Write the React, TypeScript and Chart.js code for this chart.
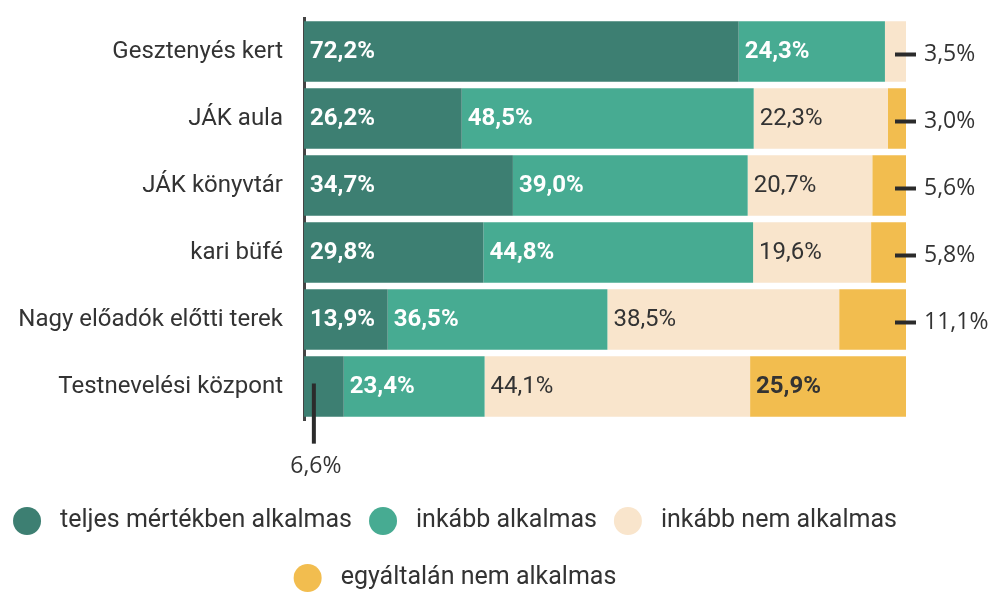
import { useEffect, useRef } from "react";
import { Chart, registerables } from "chart.js";

Chart.register(...registerables);

const categories = [
  "Gesztenyés kert",
  "JÁK aula",
  "JÁK könyvtár",
  "kari büfé",
  "Nagy előadók előtti terek",
  "Testnevelési központ",
];
const seriesNames = [
  "teljes mértékben alkalmas",
  "inkább alkalmas",
  "inkább nem alkalmas",
  "egyáltalán nem alkalmas",
];
const teljes = [72.2, 26.2, 34.7, 29.8, 13.9, 6.6];
const inkabb = [24.3, 48.5, 39.0, 44.8, 36.5, 23.4];
const inkabbNem = [3.5, 22.3, 20.7, 19.6, 38.5, 44.1];
const egyaltalan = [0, 3.0, 5.6, 5.8, 11.1, 25.9];

// where each value label goes: inside, to the right with a dash, below with a line
const placeTeljes = ["in", "in", "in", "in", "in", "below"];
const placeInkabb = ["in", "in", "in", "in", "in", "in"];
const placeInkabbNem = ["right", "in", "in", "in", "in", "in"];
const placeEgyaltalan = ["", "right", "right", "right", "right", "in"];

const colors = ["#3d7f72", "#47ab92", "#f9e5cc", "#f2bd4f"];
const textColors = ["#ffffff", "#ffffff", "#333333", "#333333"];
const textWeights = ["bold", "bold", "normal", "bold"];

const seriesValues = [teljes, inkabb, inkabbNem, egyaltalan];
const placements = [placeTeljes, placeInkabb, placeInkabbNem, placeEgyaltalan];

const fmt = (v: number) => v.toFixed(1).replace(".", ",") + "%";

const labelPlugin = {
  id: "segLabels",
  afterDatasetsDraw(chart: any) {
    const ctx = chart.ctx as CanvasRenderingContext2D;
    chart.data.datasets.forEach((ds: any, di: number) => {
      const meta = chart.getDatasetMeta(di);
      meta.data.forEach((bar: any, i: number) => {
        const place = placements[di][i];
        const v = ds.data[i];
        if (!place || !v) return;
        const { x, y, base, height } = bar.getProps(["x", "y", "base", "height"], true);
        const text = fmt(v);
        ctx.save();
        if (place === "in") {
          ctx.font = `${textWeights[di]} 24px Roboto`;
          ctx.fillStyle = textColors[di];
          ctx.textAlign = "left";
          ctx.textBaseline = "middle";
          ctx.fillText(text, base + 6, y);
        } else if (place === "right") {
          ctx.strokeStyle = "#2b2b2b";
          ctx.lineWidth = 4;
          ctx.beginPath();
          ctx.moveTo(x - 11, y + 3);
          ctx.lineTo(x + 10, y + 3);
          ctx.stroke();
          ctx.font = '23px "Open Sans"';
          ctx.fillStyle = "#333333";
          ctx.textAlign = "left";
          ctx.textBaseline = "middle";
          ctx.fillText(text, x + 18, y + 3);
        } else if (place === "below") {
          const cx = (x + base) / 2 - 10;
          const bottom = y + height / 2;
          ctx.strokeStyle = "#2b2b2b";
          ctx.lineWidth = 4;
          ctx.beginPath();
          ctx.moveTo(cx, y - 3);
          ctx.lineTo(cx, bottom + 27);
          ctx.stroke();
          ctx.font = '23px "Open Sans"';
          ctx.fillStyle = "#333333";
          ctx.textAlign = "center";
          ctx.textBaseline = "alphabetic";
          ctx.fillText(text, cx + 2, bottom + 56);
        }
        ctx.restore();
      });
    });
  },
};

const legendPlugin = {
  id: "customLegend",
  afterDraw(chart: any) {
    const ctx = chart.ctx as CanvasRenderingContext2D;
    const rows = [[0, 1, 2], [3]];
    const rowY = [521, 578];
    const centerX = 455;
    const r = 14;
    const gapAfterCircle = 19;
    const itemGap = 17;
    ctx.save();
    ctx.font = "25px Roboto";
    ctx.textBaseline = "middle";
    ctx.textAlign = "left";
    rows.forEach((row, ri) => {
      const widths = row.map(
        (di) => 2 * r + gapAfterCircle + ctx.measureText(chart.data.datasets[di].label).width
      );
      const total = widths.reduce((a, b) => a + b, 0) + itemGap * (row.length - 1);
      let cx = centerX - total / 2;
      row.forEach((di, k) => {
        const ds = chart.data.datasets[di];
        ctx.fillStyle = ds.backgroundColor;
        ctx.beginPath();
        ctx.arc(cx + r, rowY[ri], r, 0, Math.PI * 2);
        ctx.fill();
        ctx.fillStyle = "#333333";
        ctx.fillText(ds.label, cx + 2 * r + gapAfterCircle, rowY[ri]);
        cx += widths[k] + itemGap;
      });
    });
    ctx.restore();
  },
};

export default function App() {
  const ref = useRef<HTMLCanvasElement | null>(null);
  useEffect(() => {
    document.body.style.margin = "0";
    document.body.style.background = "#ffffff";
    const canvas = ref.current;
    if (!canvas) return;
    const chart = new Chart(canvas, {
      type: "bar",
      data: {
        labels: categories,
        datasets: seriesValues.map((vals, di) => ({
          label: seriesNames[di],
          data: vals,
          backgroundColor: colors[di],
          borderWidth: 0,
          categoryPercentage: 0.9,
          barPercentage: 1.0,
        })),
      },
      options: {
        indexAxis: "y",
        responsive: false,
        animation: false,
        devicePixelRatio: 1,
        layout: { padding: { top: 18, bottom: 175, right: 88, left: 0 } },
        plugins: {
          legend: { display: false },
          tooltip: { enabled: false },
        },
        scales: {
          x: { stacked: true, min: 0, max: 100, display: false },
          y: {
            stacked: true,
            grid: { display: false, drawTicks: false },
            border: { display: true, color: "#444444", width: 3 },
            ticks: {
              font: { family: "Roboto", size: 24 },
              color: "#333333",
              padding: 21,
            },
            afterFit(scale: any) {
              scale.width = 304;
              scale.paddingTop = 0;
              scale.paddingBottom = 0;
            },
          },
        },
      },
      plugins: [labelPlugin, legendPlugin],
    });
    return () => chart.destroy();
  }, []);
  return <canvas ref={ref} width={994} height={595} style={{ display: "block" }} />;
}
